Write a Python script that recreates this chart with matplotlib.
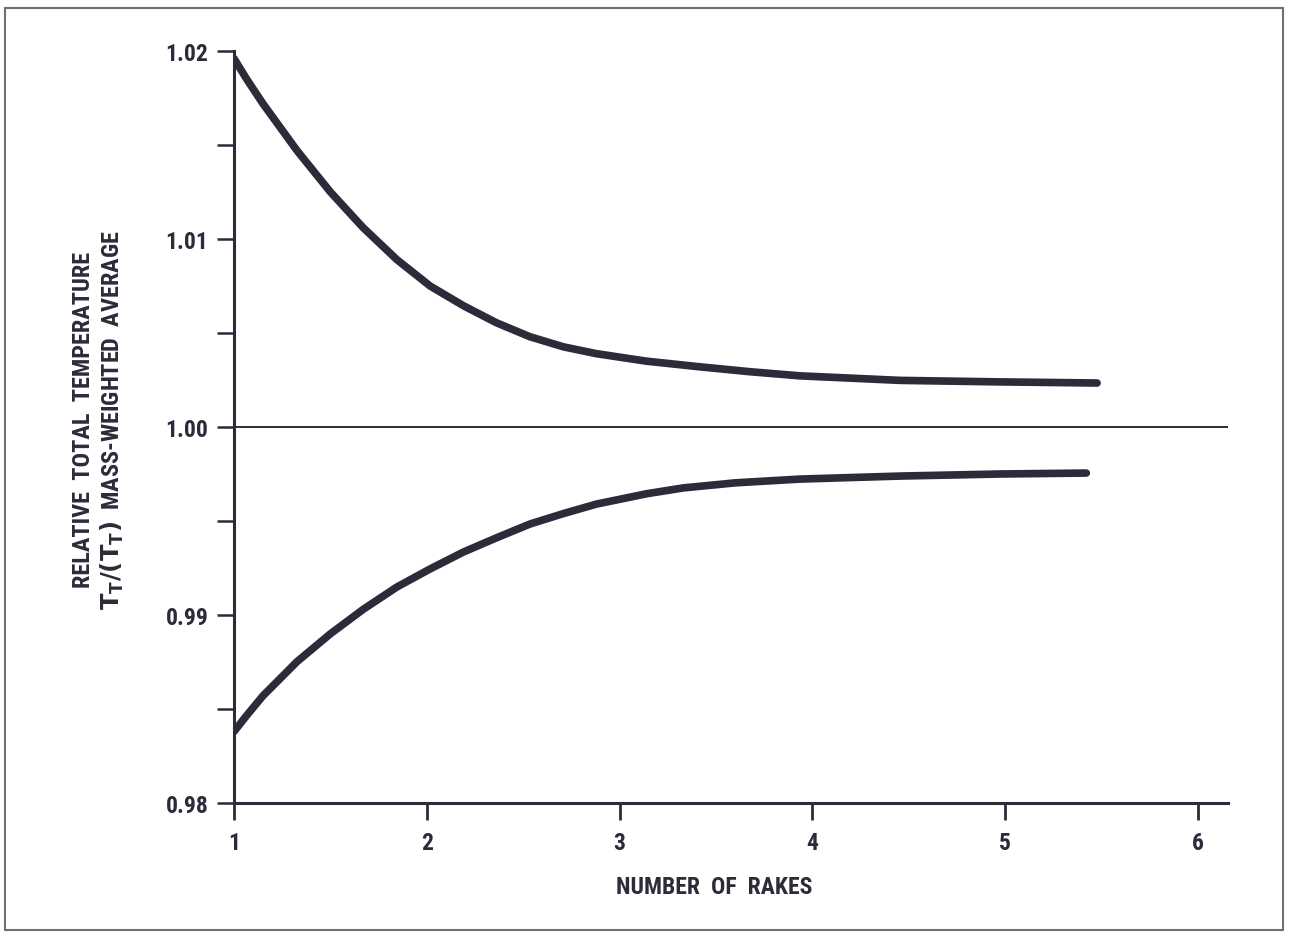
import matplotlib
matplotlib.use("Agg")
import matplotlib.pyplot as plt
from matplotlib import font_manager as fm
from matplotlib.font_manager import FontProperties
from matplotlib.patches import Rectangle

# Number of rakes and relative total temperature (upper and lower bounds)
rakes_upper = [1.00, 1.066, 1.15, 1.327, 1.50, 1.67, 1.845, 2.017, 2.19, 2.36, 2.535,
               2.71, 2.88, 3.14, 3.417, 3.676, 3.936, 4.454, 4.97, 5.476]
temp_upper = [1.0196, 1.0185, 1.0172, 1.0147, 1.0125, 1.0106, 1.0089, 1.0075, 1.00645,
              1.00555, 1.0048, 1.00426, 1.0039, 1.0035, 1.0032, 1.00294, 1.00272,
              1.00248, 1.0024, 1.00234]

rakes_lower = [1.00, 1.066, 1.15, 1.327, 1.50, 1.67, 1.845, 2.017, 2.19, 2.36, 2.535,
               2.71, 2.88, 3.14, 3.33, 3.60, 3.936, 4.454, 4.97, 5.42]
temp_lower = [0.9838, 0.98466, 0.98570, 0.98752, 0.98900, 0.99030, 0.99149, 0.99245,
              0.99335, 0.99410, 0.99484, 0.99540, 0.9959, 0.99645, 0.99676, 0.99703,
              0.99723, 0.99739, 0.9975, 0.99755]

x_ticks = [1, 2, 3, 4, 5, 6]
y_ticks = [0.98, 0.99, 1.00, 1.01, 1.02]
y_minor = [0.985, 0.995, 1.005, 1.015]

ink = "#2b2b3a"


def _weight(entry):
    w = entry.weight
    if isinstance(w, str):
        w = fm.weight_dict.get(w, 400)
    return int(w)


def _condensed(entry):
    s = str(entry.stretch).lower()
    f = (entry.fname + " " + entry.name).lower().replace(" ", "")
    if any(k in f for k in ("semicondensed", "extracondensed", "ultracondensed", "mono", "cjk")):
        return False
    return "condensed" in s or "condensed" in f or "narrow" in f


def pick_condensed_bold():
    prefs = ["roboto", "liberation", "noto sans", "open sans", "lato", "inter", "dejavu sans"]
    entries = fm.fontManager.ttflist
    for want_w in (700, 600, 800):
        for p in prefs:
            for e in entries:
                if (p in e.name.lower() and e.style == "normal"
                        and _weight(e) == want_w and _condensed(e)):
                    return e
    return None


cond = pick_condensed_bold()
if cond is not None:
    label_font = FontProperties(fname=cond.fname)
    fs_tick, fs_label, fs_ylabel = 17, 17, 17.5
    math_family = cond.name
else:
    label_font = FontProperties(family="Liberation Sans", weight="bold")
    fs_tick, fs_label, fs_ylabel = 15, 15, 14.5
    math_family = "Liberation Sans"

plt.rcParams["font.family"] = ["Liberation Sans", "DejaVu Sans"]
plt.rcParams["font.weight"] = "bold"
plt.rcParams["mathtext.fontset"] = "custom"
plt.rcParams["mathtext.rm"] = f"{math_family}:bold"
plt.rcParams["mathtext.it"] = f"{math_family}:bold"
plt.rcParams["mathtext.bf"] = f"{math_family}:bold"

fig = plt.figure(figsize=(12.9, 9.37), dpi=100)
W, H = 1290, 937
ax = fig.add_axes([234 / W, 1 - 804 / H, (1228 - 234) / W, (804 - 52) / H])

ax.plot(rakes_upper, temp_upper, color=ink, lw=5.5, solid_capstyle="round", solid_joinstyle="round")
ax.plot(rakes_lower, temp_lower, color=ink, lw=5.5, solid_capstyle="round", solid_joinstyle="round")
ax.axhline(1.0, color=ink, lw=1.4)

ax.set_xlim(1, 6.155)
ax.set_ylim(0.98, 1.02)

for side in ("top", "right"):
    ax.spines[side].set_visible(False)
for side in ("left", "bottom"):
    ax.spines[side].set_color(ink)
    ax.spines[side].set_linewidth(2.2)

ax.set_xticks(x_ticks)
ax.set_xticklabels([str(v) for v in x_ticks])
ax.set_yticks(y_ticks)
ax.set_yticklabels([f"{v:.2f}" for v in y_ticks])
ax.set_yticks(y_minor, minor=True)

ax.tick_params(axis="y", which="both", direction="out", length=12.5, width=1.8,
               color=ink, labelcolor=ink, pad=6)
ax.tick_params(axis="x", which="both", direction="out", length=12.5, width=2.0,
               color=ink, labelcolor=ink, pad=8)
for lbl in ax.get_xticklabels() + ax.get_yticklabels():
    lbl.set_fontproperties(label_font)
    lbl.set_fontsize(fs_tick)

ax.set_xlabel("NUMBER  OF  RAKES", fontproperties=label_font, fontsize=fs_label, color=ink)
ax.xaxis.set_label_coords((714 - 234) / (1228 - 234), (804 - 876) / (804 - 52))

ax.set_ylabel("RELATIVE  TOTAL  TEMPERATURE\n"
              r"$\mathrm{T_T/(T_T)}$  MASS-WEIGHTED  AVERAGE",
              fontproperties=label_font, fontsize=fs_ylabel, color=ink, linespacing=1.2)
ax.yaxis.set_label_coords((126 - 234) / (1228 - 234), (804 - 420) / (804 - 52))

# Frame around the whole figure
fig.patches.append(Rectangle((5 / W, 1 - 931 / H), (1283 - 5) / W, (931 - 9) / H,
                             transform=fig.transFigure, fill=False,
                             edgecolor="#6e6e78", lw=1.5))

fig.savefig("out.png", dpi=100, facecolor="white")
